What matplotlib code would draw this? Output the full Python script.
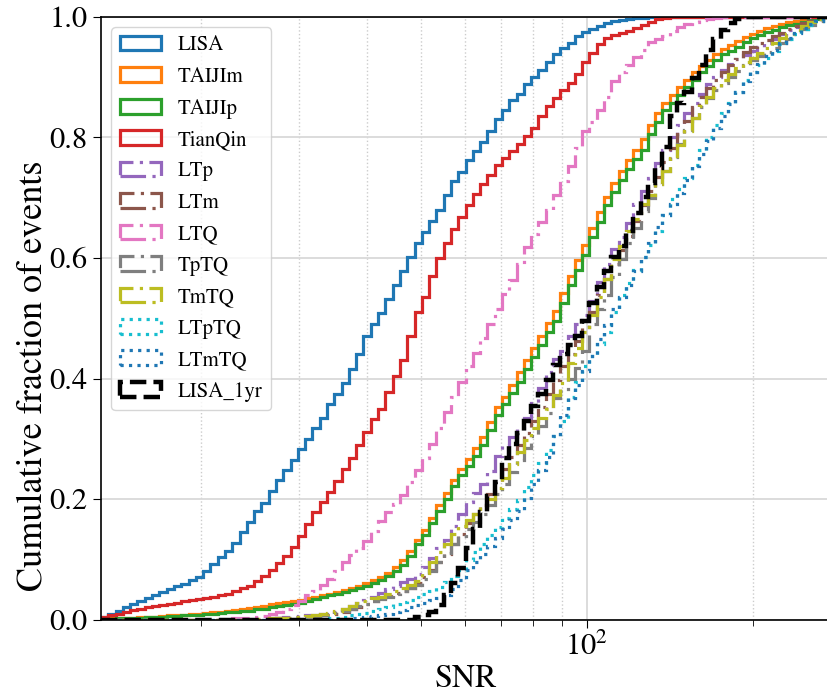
import numpy as np
import matplotlib
matplotlib.use("Agg")
import matplotlib.pyplot as plt
from matplotlib.patches import Patch

plt.rcParams['font.family'] = ['STIXGeneral', 'DejaVu Serif']
plt.rcParams['mathtext.fontset'] = 'stix'

# log-spaced SNR bins shared by all networks
snr_edges = np.geomspace(13.15, 276.0, 101)

# cumulative fraction of events below the upper edge of each bin
cdf_LISA = [
    0.005, 0.010, 0.015, 0.020, 0.025, 0.030, 0.036, 0.041, 0.045, 0.050,
    0.055, 0.059, 0.065, 0.070, 0.080, 0.092, 0.103, 0.114, 0.127, 0.145,
    0.162, 0.180, 0.193, 0.213, 0.231, 0.248, 0.265, 0.283, 0.300, 0.318,
    0.335, 0.357, 0.375, 0.392, 0.415, 0.440, 0.470, 0.490, 0.508, 0.532,
    0.555, 0.578, 0.602, 0.625, 0.643, 0.662, 0.680, 0.705, 0.728, 0.743,
    0.762, 0.778, 0.792, 0.810, 0.830, 0.845, 0.862, 0.872, 0.888, 0.900,
    0.912, 0.925, 0.938, 0.948, 0.957, 0.968, 0.975, 0.980, 0.985, 0.990,
    0.993, 0.995, 0.997, 0.998, 0.999] + [1.0] * 25

cdf_TAIJIm = [
    0.001, 0.002, 0.002, 0.003, 0.003, 0.004, 0.005, 0.005, 0.006, 0.007,
    0.007, 0.008, 0.009, 0.010, 0.011, 0.012, 0.013, 0.015, 0.016, 0.018,
    0.019, 0.021, 0.023, 0.025, 0.027, 0.029, 0.031, 0.033, 0.035, 0.037,
    0.040, 0.043, 0.046, 0.049, 0.052, 0.056, 0.060, 0.065, 0.071, 0.078,
    0.087, 0.098, 0.113, 0.132, 0.148, 0.168, 0.190, 0.210, 0.232, 0.250,
    0.266, 0.284, 0.303, 0.328, 0.352, 0.370, 0.390, 0.410, 0.430, 0.450,
    0.470, 0.492, 0.512, 0.542, 0.570, 0.596, 0.622, 0.650, 0.676, 0.702,
    0.724, 0.744, 0.762, 0.780, 0.797, 0.820, 0.840, 0.858, 0.870, 0.883,
    0.896, 0.908, 0.919, 0.929, 0.938, 0.947, 0.953, 0.960, 0.966, 0.972,
    0.977, 0.981, 0.985, 0.988, 0.991, 0.994, 0.996, 0.998, 0.999, 1.0]

cdf_TAIJIp = [
    0.001, 0.001, 0.002, 0.002, 0.003, 0.003, 0.004, 0.005, 0.005, 0.006,
    0.006, 0.007, 0.007, 0.008, 0.009, 0.010, 0.011, 0.012, 0.013, 0.014,
    0.015, 0.017, 0.018, 0.020, 0.022, 0.024, 0.026, 0.028, 0.031, 0.034,
    0.037, 0.040, 0.043, 0.046, 0.049, 0.052, 0.056, 0.061, 0.066, 0.072,
    0.080, 0.090, 0.105, 0.125, 0.140, 0.160, 0.180, 0.200, 0.222, 0.240,
    0.255, 0.272, 0.290, 0.315, 0.340, 0.358, 0.376, 0.395, 0.415, 0.435,
    0.455, 0.478, 0.495, 0.525, 0.555, 0.580, 0.605, 0.635, 0.660, 0.688,
    0.710, 0.730, 0.748, 0.765, 0.780, 0.805, 0.825, 0.845, 0.857, 0.870,
    0.884, 0.896, 0.908, 0.918, 0.928, 0.938, 0.944, 0.951, 0.958, 0.965,
    0.970, 0.975, 0.979, 0.983, 0.986, 0.989, 0.992, 0.995, 0.997, 1.0]

cdf_TianQin = [
    0.005, 0.008, 0.010, 0.013, 0.016, 0.018, 0.020, 0.022, 0.024, 0.026,
    0.028, 0.030, 0.032, 0.034, 0.036, 0.038, 0.040, 0.043, 0.047, 0.052,
    0.056, 0.064, 0.073, 0.083, 0.094, 0.106, 0.120, 0.138, 0.158, 0.178,
    0.195, 0.212, 0.230, 0.250, 0.268, 0.290, 0.312, 0.333, 0.350, 0.378,
    0.405, 0.430, 0.470, 0.510, 0.535, 0.570, 0.600, 0.625, 0.648, 0.668,
    0.688, 0.706, 0.722, 0.738, 0.754, 0.766, 0.778, 0.790, 0.802, 0.815,
    0.835, 0.853, 0.866, 0.878, 0.890, 0.905, 0.925, 0.940, 0.955, 0.965,
    0.970, 0.974, 0.977, 0.981, 0.987, 0.992, 0.996, 0.998] + [1.0] * 22

cdf_LTp = [0.0] * 21 + [
    0.001, 0.002, 0.002, 0.003, 0.004, 0.005, 0.006, 0.007, 0.008,
    0.009, 0.010, 0.013, 0.018, 0.022, 0.027, 0.032, 0.038, 0.044, 0.050,
    0.056, 0.062, 0.068, 0.075, 0.088, 0.102, 0.118, 0.132, 0.155, 0.175,
    0.195, 0.210, 0.225, 0.247, 0.272, 0.290, 0.303, 0.318, 0.335, 0.360,
    0.385, 0.410, 0.432, 0.445, 0.470, 0.490, 0.505, 0.528, 0.560, 0.590,
    0.615, 0.635, 0.658, 0.690, 0.712, 0.732, 0.758, 0.780, 0.800, 0.820,
    0.840, 0.858, 0.873, 0.888, 0.900, 0.912, 0.922, 0.930, 0.937, 0.943,
    0.950, 0.957, 0.964, 0.971, 0.978, 0.984, 0.990, 0.994, 0.997, 1.0]

cdf_LTm = [0.0] * 22 + [
    0.001, 0.001, 0.002, 0.003, 0.003, 0.004, 0.005, 0.006,
    0.007, 0.008, 0.010, 0.013, 0.017, 0.021, 0.025, 0.030, 0.035, 0.039,
    0.044, 0.048, 0.053, 0.060, 0.070, 0.082, 0.095, 0.108, 0.125, 0.142,
    0.160, 0.175, 0.190, 0.208, 0.228, 0.250, 0.270, 0.290, 0.310, 0.330,
    0.352, 0.375, 0.398, 0.420, 0.440, 0.462, 0.485, 0.510, 0.538, 0.565,
    0.590, 0.613, 0.637, 0.662, 0.688, 0.712, 0.735, 0.760, 0.782, 0.805,
    0.828, 0.850, 0.868, 0.882, 0.895, 0.908, 0.920, 0.930, 0.942, 0.950,
    0.956, 0.962, 0.968, 0.974, 0.980, 0.985, 0.990, 0.994, 0.997, 1.0]

cdf_LTQ = [0.0] * 18 + [
    0.002, 0.002,
    0.003, 0.004, 0.006, 0.009, 0.013, 0.018, 0.024, 0.031, 0.040, 0.048,
    0.057, 0.067, 0.080, 0.095, 0.107, 0.118, 0.130, 0.147, 0.163, 0.178,
    0.192, 0.207, 0.228, 0.248, 0.268, 0.292, 0.318, 0.345, 0.370, 0.395,
    0.420, 0.443, 0.467, 0.490, 0.515, 0.540, 0.563, 0.590, 0.618, 0.640,
    0.660, 0.680, 0.705, 0.728, 0.752, 0.782, 0.810, 0.825, 0.845, 0.868,
    0.893, 0.908, 0.920, 0.933, 0.945, 0.958, 0.963, 0.968, 0.976, 0.983,
    0.988, 0.991, 0.995, 0.997, 0.999] + [1.0] * 15

cdf_TpTQ = [0.0] * 22 + [
    0.001, 0.001, 0.002, 0.002, 0.003, 0.004, 0.005, 0.006,
    0.007, 0.009, 0.011, 0.014, 0.018, 0.022, 0.026, 0.030, 0.034, 0.038,
    0.042, 0.047, 0.052, 0.058, 0.068, 0.080, 0.095, 0.110, 0.125, 0.138,
    0.150, 0.162, 0.175, 0.190, 0.208, 0.225, 0.245, 0.265, 0.285, 0.305,
    0.322, 0.342, 0.368, 0.380, 0.400, 0.418, 0.445, 0.490, 0.515, 0.538,
    0.568, 0.598, 0.625, 0.650, 0.678, 0.700, 0.722, 0.745, 0.768, 0.790,
    0.812, 0.832, 0.850, 0.865, 0.878, 0.890, 0.901, 0.911, 0.920, 0.928,
    0.935, 0.942, 0.949, 0.956, 0.964, 0.972, 0.980, 0.987, 0.994, 1.0]

cdf_TmTQ = [0.0] * 21 + [
    0.001, 0.001, 0.002, 0.002, 0.003, 0.004, 0.005, 0.006, 0.007,
    0.009, 0.011, 0.014, 0.018, 0.022, 0.027, 0.031, 0.035, 0.038, 0.042,
    0.047, 0.052, 0.057, 0.064, 0.078, 0.095, 0.112, 0.125, 0.142, 0.155,
    0.165, 0.175, 0.186, 0.200, 0.218, 0.235, 0.258, 0.278, 0.298, 0.318,
    0.335, 0.350, 0.372, 0.392, 0.425, 0.450, 0.478, 0.505, 0.535, 0.565,
    0.598, 0.620, 0.645, 0.665, 0.690, 0.705, 0.722, 0.745, 0.766, 0.788,
    0.810, 0.832, 0.852, 0.868, 0.882, 0.895, 0.906, 0.916, 0.925, 0.932,
    0.940, 0.948, 0.957, 0.965, 0.972, 0.979, 0.985, 0.991, 0.996, 1.0]

cdf_LTpTQ = [0.0] * 30 + [
    0.001, 0.002, 0.003, 0.005, 0.007, 0.009, 0.011, 0.014, 0.017, 0.021,
    0.025, 0.029, 0.033, 0.038, 0.042, 0.047, 0.054, 0.062, 0.072, 0.082,
    0.098, 0.112, 0.125, 0.140, 0.154, 0.168, 0.183, 0.198, 0.220, 0.240,
    0.260, 0.282, 0.305, 0.330, 0.370, 0.395, 0.420, 0.438, 0.458, 0.478,
    0.510, 0.538, 0.558, 0.580, 0.602, 0.622, 0.645, 0.672, 0.698, 0.715,
    0.732, 0.755, 0.780, 0.800, 0.820, 0.840, 0.858, 0.876, 0.895, 0.908,
    0.920, 0.932, 0.944, 0.955, 0.964, 0.972, 0.980, 0.987, 0.994, 1.0]

cdf_LTmTQ = [0.0] * 33 + [
    0.001, 0.002, 0.003, 0.004, 0.006, 0.008, 0.010,
    0.013, 0.016, 0.020, 0.024, 0.028, 0.032, 0.036, 0.041, 0.050, 0.065,
    0.082, 0.095, 0.108, 0.122, 0.136, 0.150, 0.165, 0.180, 0.202, 0.225,
    0.248, 0.270, 0.305, 0.340, 0.368, 0.390, 0.412, 0.438, 0.465, 0.488,
    0.515, 0.535, 0.555, 0.578, 0.602, 0.625, 0.652, 0.672, 0.690, 0.708,
    0.730, 0.752, 0.772, 0.795, 0.815, 0.835, 0.855, 0.875, 0.893, 0.908,
    0.922, 0.935, 0.946, 0.956, 0.965, 0.973, 0.981, 0.988, 0.994, 1.0]

cdf_LISA_1yr = [0.0] * 43 + [
    0.004, 0.007, 0.012, 0.024, 0.040, 0.060, 0.085,
    0.118, 0.150, 0.178, 0.205, 0.228, 0.268, 0.292, 0.310, 0.330, 0.355,
    0.375, 0.398, 0.422, 0.440, 0.455, 0.470, 0.495, 0.525, 0.552, 0.578,
    0.602, 0.620, 0.645, 0.675, 0.702, 0.725, 0.750, 0.785, 0.835, 0.858,
    0.875, 0.898, 0.920, 0.945, 0.964, 0.978, 0.990, 0.996] + [1.0] * 12

labels = ['LISA', 'TAIJIm', 'TAIJIp', 'TianQin', 'LTp', 'LTm', 'LTQ',
          'TpTQ', 'TmTQ', 'LTpTQ', 'LTmTQ', 'LISA_1yr']
curves = [cdf_LISA, cdf_TAIJIm, cdf_TAIJIp, cdf_TianQin, cdf_LTp, cdf_LTm,
          cdf_LTQ, cdf_TpTQ, cdf_TmTQ, cdf_LTpTQ, cdf_LTmTQ, cdf_LISA_1yr]
colors = ['#1f77b4', '#ff7f0e', '#2ca02c', '#d62728', '#9467bd', '#8c564b',
          '#e377c2', '#7f7f7f', '#bcbd22', '#17becf', '#1f77b4', 'k']
dashdot = (0, (8, 2, 1, 2))
styles = ['-', '-', '-', '-', dashdot, dashdot, dashdot, dashdot, dashdot,
          ':', ':', '--']
widths = [2.3] * 11 + [3.2]

fig = plt.figure(figsize=(8.28, 6.93), dpi=100)
# right edge of the axes sits just past the canvas, so its spine is not drawn
ax = fig.add_axes([0.122, 0.106, 0.8805, 0.8695])

handles = []
for lab, cdf, c, ls, lw in zip(labels, curves, colors, styles, widths):
    ax.stairs(cdf, snr_edges, baseline=0, fill=False, color=c,
              linestyle=ls, linewidth=lw)
    handles.append(Patch(facecolor='none', edgecolor=c, linestyle=ls,
                         linewidth=lw, label=lab))

ax.set_xscale('log')
ax.set_xlim(snr_edges[0], snr_edges[-1])
ax.set_ylim(0, 1)
ax.set_axisbelow(True)
ax.grid(True, which='major', color='#d9d9d9', linewidth=1.3)
ax.grid(True, which='minor', axis='x', color='#cccccc', linestyle=':', linewidth=1.0)
ax.tick_params(which='major', labelsize=22, length=6)
ax.tick_params(which='minor', length=4)
ax.set_yticks([0.0, 0.2, 0.4, 0.6, 0.8, 1.0])
ax.set_yticklabels(['0.0', '0.2', '0.4', '0.6', '0.8', '1.0'])
for s in ax.spines.values():
    s.set_linewidth(1.2)

ax.set_xlabel('SNR', fontsize=23, labelpad=2)
ax.set_ylabel('Cumulative fraction of events', fontsize=26)
ax.yaxis.set_label_coords(-0.07, 0.405)
ax.legend(handles=handles, loc='upper left', fontsize=15, labelspacing=0.56)

fig.savefig('out.png', dpi=100)
